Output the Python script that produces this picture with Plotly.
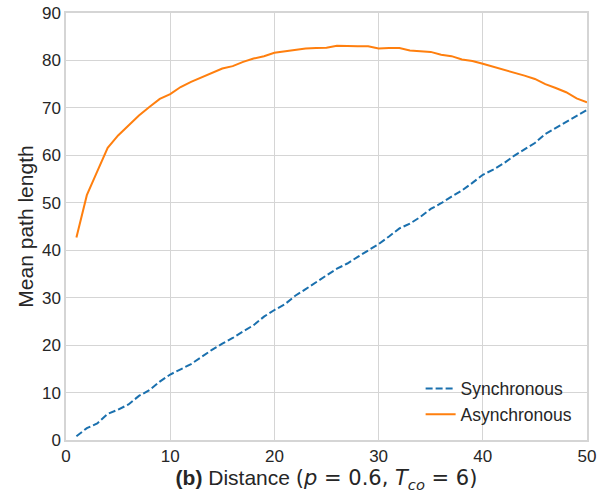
import plotly.graph_objects as go

# Distance values (x axis)
distance = list(range(1, 51))

# Mean path length for the synchronous scheme
synchronous = [0.8, 2.5, 3.5, 5.5, 6.4, 7.5, 9.3, 10.5, 12.3, 13.8,
               14.9, 16.0, 17.5, 19.0, 20.3, 21.5, 22.9, 24.2, 26.0, 27.4,
               28.6, 30.4, 31.8, 33.3, 34.7, 36.1, 37.2, 38.6, 40.0, 41.3,
               42.9, 44.6, 45.6, 47.0, 48.7, 49.9, 51.3, 52.6, 54.2, 55.9,
               57.0, 58.3, 59.9, 61.3, 62.6, 64.5, 65.8, 67.1, 68.3, 69.6]

# Mean path length for the asynchronous scheme
asynchronous = [42.7, 51.6, 56.6, 61.6, 64.2, 66.4, 68.4, 70.2, 71.9, 72.9,
                74.4, 75.5, 76.4, 77.4, 78.3, 78.8, 79.7, 80.4, 80.9, 81.6,
                81.9, 82.2, 82.5, 82.6, 82.7, 83.1, 83.0, 83.0, 83.0, 82.5,
                82.6, 82.6, 82.1, 81.9, 81.8, 81.2, 80.9, 80.2, 79.9, 79.3,
                78.7, 78.0, 77.4, 76.8, 76.1, 75.0, 74.2, 73.3, 72.0, 71.2]

x_ticks = [0, 10, 20, 30, 40, 50]
y_ticks = [0, 10, 20, 30, 40, 50, 60, 70, 80, 90]

FONT = "Liberation Sans, Arial, sans-serif"
MATH = "DejaVu Sans"
TEXT = "#262626"
GRID = "#d5d5d5"

x_title = (
    "<b>(b)</b> Distance "
    f"<span style='font-family:{MATH}'>(<i>p</i> = 0.6, "
    "<i>T</i><sub><i>co</i></sub> = 6)</span>"
)

fig = go.Figure()
fig.add_trace(go.Scatter(
    x=distance, y=synchronous, mode="lines", name="Synchronous",
    line=dict(color="#1a70ae", width=2, dash="7px,3px"),
))
fig.add_trace(go.Scatter(
    x=distance, y=asynchronous, mode="lines", name="Asynchronous",
    line=dict(color="#ff7f0e", width=2),
))

fig.update_layout(
    width=610, height=497,
    margin=dict(l=66, r=23, t=13, b=57),
    paper_bgcolor="white", plot_bgcolor="white",
    font=dict(family=FONT, size=17, color=TEXT),
    showlegend=True,
    legend=dict(
        x=0.982, y=0.017, xanchor="right", yanchor="bottom",
        bgcolor="rgba(0,0,0,0)", borderwidth=0,
        font=dict(size=17.5, color=TEXT),
    ),
    xaxis=dict(
        range=[0, 50], tickvals=x_ticks, showgrid=True, gridcolor=GRID,
        gridwidth=1, zeroline=False, showline=True, linecolor=GRID,
        linewidth=1.5, mirror=True, ticks="", ticklabelstandoff=0,
        automargin=False,
        tickfont=dict(size=17, color=TEXT),
        title=dict(text=x_title, font=dict(size=21, color=TEXT), standoff=2),
    ),
    yaxis=dict(
        range=[0, 90], tickvals=y_ticks, showgrid=True, gridcolor=GRID,
        gridwidth=1, zeroline=False, showline=True, linecolor=GRID,
        linewidth=1.5, mirror=True, ticks="", ticklabelstandoff=0,
        automargin=False,
        tickfont=dict(size=17, color=TEXT),
        title=dict(text="Mean path length", font=dict(size=21, color=TEXT), standoff=3),
    ),
)

fig.write_html("out.html")
